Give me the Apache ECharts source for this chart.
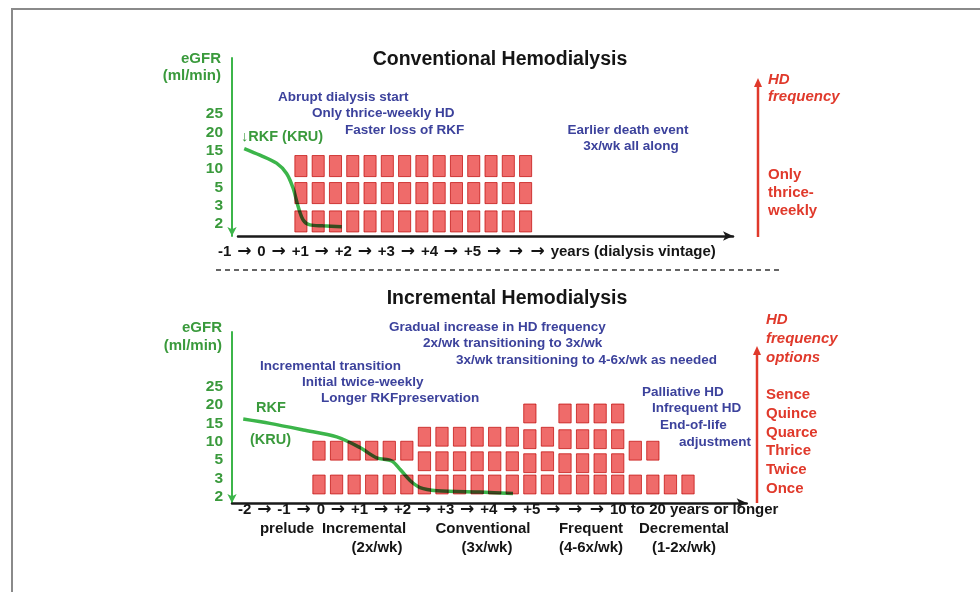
<!DOCTYPE html>
<html>
<head>
<meta charset="utf-8">
<script src="https://cdn.jsdelivr.net/npm/echarts@6/dist/echarts.min.js"></script>
<style>
html,body{margin:0;padding:0;background:#fff;}
#main{width:980px;height:592px;}
</style>
</head>
<body>
<div id="main"></div>
<script>
// ---------------- DATA ----------------
const egfrTicks = ['2', '3', '5', '10', '15', '20', '25'];

// number of HD sessions per week drawn in each time slot (one column of squares per slot)
const topCounts = [3, 3, 3, 3, 3, 3, 3, 3, 3, 3, 3, 3, 3, 3];
const bottomCounts = [2, 2, 2, 2, 2, 2, 3, 3, 3, 3, 3, 3, 4, 3, 4, 4, 4, 4, 2, 2, 1, 1];

// residual kidney function curve (x in time slots, y in eGFR ml/min)
const topCurveX = [-3.28, -2.37, -1.41, -0.83, -0.45, -0.16, 0.13, 0.52, 1.27, 2.36];
const topCurveEgfr = [15.6, 13.8, 11.6, 8.8, 4.9, 2.95, 2.22, 1.95, 1.9, 1.85];
const bottomCurveX = [-4.31, -2.79, -0.89, 1.01, 2.33, 3.28, 4.14, 4.61, 5.18, 5.75, 6.70, 9.16, 11.04];
const bottomCurveEgfr = [16.2, 15.0, 13.2, 11.3, 8.4, 5.6, 4.9, 4.0, 2.88, 2.5, 2.33, 2.25, 2.18];

// time-line labels
const topTimeTicks = ['-1', '0', '+1', '+2', '+3', '+4', '+5', '', '', 'years (dialysis vintage)'];
const bottomTimeTicks = ['-2', '-1', '0', '+1', '+2', '+3', '+4', '+5', '', '', '10 to 20 years or longer'];
const phaseNames = ['prelude', 'Incremental', 'Conventional', 'Frequent', 'Decremental'];
const phaseFreqs = ['', '(2x/wk)', '(3x/wk)', '(4-6x/wk)', '(1-2x/wk)'];
const freqOptions = ['Sence', 'Quince', 'Quarce', 'Thrice', 'Twice', 'Once'];

// annotation texts
const topNotes = ['Abrupt dialysis start', 'Only thrice-weekly HD', 'Faster loss of RKF'];
const topDeathNotes = ['Earlier death event', '3x/wk all along'];
const bottomGradualNotes = ['Gradual increase in HD frequency', '2x/wk transitioning to 3x/wk', '3x/wk transitioning to 4-6x/wk as needed'];
const bottomIncNotes = ['Incremental transition', 'Initial twice-weekly', 'Longer RKFpreservation'];
const bottomPallNotes = ['Palliative HD', 'Infrequent HD', 'End-of-life', 'adjustment'];

// ---------------- LAYOUT / STYLE ----------------
const FONT = '"Liberation Sans", Arial, sans-serif';
const GREEN = '#3cb54a', GREEN_T = '#3a9a3c', BLUE = '#3c429c', RED = '#e0392b', BLACK = '#151515';
const SQ_FILL = '#ef6b6a', SQ_STROKE = '#d8504e';

// row placement (in row units) for stacks of given size
const topStack = {3: [0, 1.05, 2.05]};
const bottomStack = {1: [0], 2: [0, 1.38], 3: [0, 0.95, 1.95], 4: [0, 0.87, 1.85, 2.9]};
const topRowBase = 0.15, topRowH = 0.78;
const botRowBase = 0.37, botRowH = 0.77;

function egfrToLevel(v) {
  const t = egfrTicks.map(Number);
  if (v <= t[0]) return (v - t[0]) / (t[1] - t[0]);
  for (let i = 0; i < t.length - 1; i++) {
    if (v <= t[i + 1]) return i + (v - t[i]) / (t[i + 1] - t[i]);
  }
  return t.length - 1;
}
function squares(counts, stack, base, h) {
  const out = [];
  counts.forEach((c, i) => {
    stack[c].forEach(r => out.push([i, r + base, r + base + h]));
  });
  return out;
}
function curve(xs, ys) { return xs.map((x, i) => [x, egfrToLevel(ys[i])]); }
function timeLine(ticks) {
  // rich text: arrows drawn with a font that has a bold arrow glyph
  return ticks.join(' {a|\u2192} ').replace(/ {2,}/g, ' ');
}

function renderSquare(params, api) {
  const x = api.value(0);
  const a = api.coord([x, api.value(1)]);
  const b = api.coord([x, api.value(2)]);
  const w = api.size([0.7, 0])[0];
  return {
    type: 'rect',
    shape: {x: a[0] - w / 2, y: b[1], width: w, height: a[1] - b[1]},
    style: {fill: SQ_FILL, stroke: SQ_STROKE, lineWidth: 1}
  };
}

function txt(text, x, y, color, size, align, opts) {
  opts = opts || {};
  const style = {
    text: text, x: x, y: y, fill: color,
    font: (opts.italic ? 'italic ' : '') + 'bold ' + size + 'px ' + FONT,
    align: align || 'left', verticalAlign: 'middle'
  };
  if (opts.rich) style.rich = opts.rich;
  return {type: 'text', z: 50, style: style};
}
function lines(arr, xs, y0, dy, color, size, align, opts) {
  return arr.map((s, i) => txt(s, Array.isArray(xs) ? xs[i] : xs, y0 + dy * i, color, size, align, opts));
}
function vArrow(x, yBottom, yTop, color) {
  return [
    {type: 'line', z: 40, shape: {x1: x, y1: yBottom, x2: x, y2: yTop + 6}, style: {stroke: color, lineWidth: 2.5}},
    {type: 'polygon', z: 40, shape: {points: [[x - 4, yTop + 8], [x + 4, yTop + 8], [x, yTop - 1]]}, style: {fill: color}}
  ];
}
const arrowRich = {a: {font: 'bold 17px "DejaVu Sans", sans-serif', fill: BLACK, padding: [0, 1.7]}};

const levelAxis = (grid, min, max, offset) => ({
  gridIndex: grid, type: 'value', min: min, max: max, offset: offset,
  axisLine: {show: true, onZero: false, lineStyle: {color: GREEN, width: 2}, symbol: ['arrow', 'none'], symbolSize: [7, 9]},
  axisTick: {show: false}, splitLine: {show: false},
  axisLabel: {
    customValues: egfrTicks.map((_, i) => i),
    formatter: v => egfrTicks[Math.round(v)],
    color: GREEN_T, fontWeight: 'bold', fontSize: 15.5, fontFamily: FONT, margin: 9
  }
});
const timeAxis = (grid, min, max) => ({
  gridIndex: grid, type: 'value', min: min, max: max,
  axisLine: {show: true, onZero: false, lineStyle: {color: '#1a1a1a', width: 2.5}, symbol: ['none', 'arrow'], symbolSize: [7, 10]},
  axisTick: {show: false}, axisLabel: {show: false}, splitLine: {show: false}
});

const graphics = [
  {type: 'rect', z: 1, shape: {x: 12, y: 9, width: 1000, height: 640}, style: {fill: null, stroke: '#8a8a8a', lineWidth: 2}},
  {type: 'line', z: 40, shape: {x1: 216, y1: 270, x2: 780, y2: 270}, style: {stroke: '#333', lineWidth: 1.6, lineDash: [5, 4]}},
  // top panel
  txt('Conventional Hemodialysis', 500, 60, BLACK, 19.5, 'center'),
  txt('eGFR', 221, 59, GREEN_T, 15, 'right'),
  txt('(ml/min)', 221, 76, GREEN_T, 15, 'right'),
  ...lines(topNotes, [278, 312, 345], 97, 16.5, BLUE, 13.5, 'left'),
  txt('\u2193RKF (KRU)', 241, 137, GREEN_T, 14.5, 'left'),
  ...lines(topDeathNotes, [628, 631], 130, 16.5, BLUE, 13.5, 'center'),
  txt('HD', 768, 80, RED, 15, 'left', {italic: true}),
  txt('frequency', 768, 97, RED, 15, 'left', {italic: true}),
  ...lines(['Only', 'thrice-', 'weekly'], 768, 175, 18, RED, 15, 'left'),
  txt(timeLine(topTimeTicks), 218, 252, BLACK, 15, 'left', {rich: arrowRich}),
  ...vArrow(758, 237, 79, RED),
  // bottom panel
  txt('Incremental Hemodialysis', 507, 299, BLACK, 19.5, 'center'),
  txt('eGFR', 222, 328, GREEN_T, 15, 'right'),
  txt('(ml/min)', 222, 346, GREEN_T, 15, 'right'),
  ...lines(bottomGradualNotes, [389, 423, 456], 327, 16.5, BLUE, 13.5, 'left'),
  ...lines(bottomIncNotes, [260, 302, 321], 366, 16, BLUE, 13.5, 'left'),
  txt('RKF', 256, 408, GREEN_T, 14.5, 'left'),
  txt('(KRU)', 250, 440, GREEN_T, 14.5, 'left'),
  ...lines(bottomPallNotes, [642, 652, 660, 679], 392, 16.7, BLUE, 13.5, 'left'),
  ...lines(['HD', 'frequency', 'options'], 766, 320, 19, RED, 15, 'left', {italic: true}),
  ...lines(freqOptions, 766, 395, 18.7, RED, 15, 'left'),
  txt(timeLine(bottomTimeTicks), 238, 510, BLACK, 15, 'left', {rich: arrowRich}),
  ...lines(phaseNames, [287, 364, 483, 591, 684], 529, 0, BLACK, 15, 'center'),
  ...lines(phaseFreqs, [287, 377, 487, 591, 684], 548, 0, BLACK, 15, 'center'),
  ...vArrow(757, 503, 347, RED)
];

const chart = echarts.init(document.getElementById('main'), null, {renderer: 'canvas'});
chart.setOption({
  animation: false,
  backgroundColor: '#ffffff',
  grid: [
    {left: 238, width: 495, top: 58, height: 178},
    {left: 232, width: 514.7, top: 332, height: 171}
  ],
  xAxis: [timeAxis(0, -3.64, 25), timeAxis(1, -4.95, 24.34)],
  yAxis: [
    levelAxis(0, -0.655, 9.06, 6),
    {gridIndex: 0, type: 'value', min: 0, max: 6.593, show: false},
    levelAxis(1, -0.344, 8.985, 0),
    {gridIndex: 1, type: 'value', min: 0, max: 6.98, show: false}
  ],
  series: [
    {type: 'line', xAxisIndex: 0, yAxisIndex: 0, z: 2, data: curve(topCurveX, topCurveEgfr), smooth: 0.3, symbol: 'none', lineStyle: {color: GREEN, width: 3.5}},
    {type: 'custom', xAxisIndex: 0, yAxisIndex: 1, z: 3, blendMode: 'multiply', data: squares(topCounts, topStack, topRowBase, topRowH), renderItem: renderSquare},
    {type: 'line', xAxisIndex: 1, yAxisIndex: 2, z: 2, data: curve(bottomCurveX, bottomCurveEgfr), smooth: 0.3, symbol: 'none', lineStyle: {color: GREEN, width: 3.5}},
    {type: 'custom', xAxisIndex: 1, yAxisIndex: 3, z: 3, blendMode: 'multiply', data: squares(bottomCounts, bottomStack, botRowBase, botRowH), renderItem: renderSquare}
  ],
  graphic: graphics
});
</script>
</body>
</html>
